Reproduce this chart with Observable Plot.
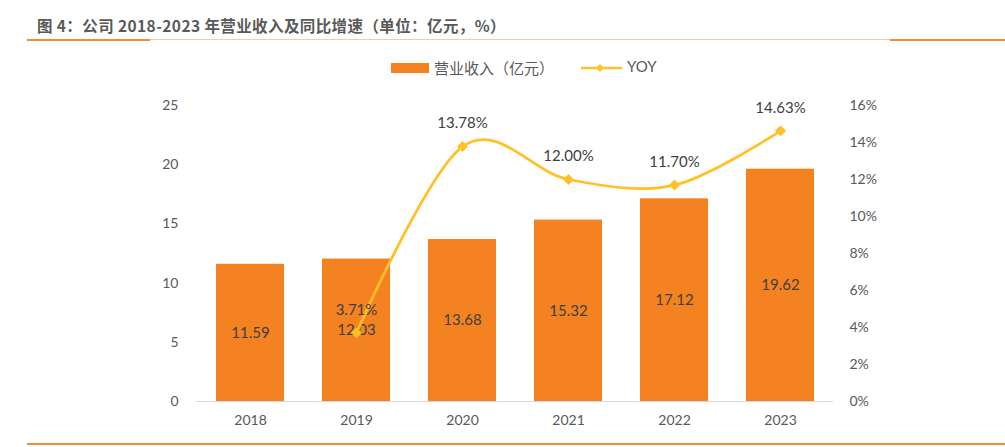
<!DOCTYPE html>
<html><head><meta charset="utf-8">
<script src="https://cdn.jsdelivr.net/npm/d3@7"></script>
<script src="https://cdn.jsdelivr.net/npm/@observablehq/plot@0.6"></script>
<style>
body{margin:0;background:#fff;}
#wrap{position:relative;width:1005px;height:447px;overflow:hidden;font-family:Lato,"Noto Sans CJK SC",sans-serif;}
#title{position:absolute;left:37px;top:14px;font:bold 15.5px "Noto Sans CJK SC",sans-serif;letter-spacing:0.4px;color:#595959;white-space:nowrap;}
.rule{position:absolute;background:#F4A460;}
#legend{position:absolute;left:0;top:56px;width:1005px;height:24px;font:15px "Noto Sans CJK SC",sans-serif;color:#595959;}
#chart{position:absolute;left:0;top:0;}
</style></head>
<body><div id="wrap">
<div id="chart"></div>
<div id="title">图 4：公司 2018-2023 年营业收入及同比增速（单位：亿元，%）</div>
<div class="rule" style="left:27px;top:39px;width:123px;height:2px;background:#F28C3A"></div>
<div class="rule" style="left:150px;top:39px;width:740px;height:1px;background:#F9C9A0"></div>
<div class="rule" style="left:890px;top:39px;width:115px;height:2px;background:#F28C3A"></div>
<div class="rule" style="left:27px;top:443px;width:978px;height:2px;background:#F28C3A"></div>
<div id="legend">
  <div style="position:absolute;left:391px;top:7px;width:38px;height:10px;background:#F58220"></div>
  <div style="position:absolute;left:434px;top:1px;">营业收入（亿元）</div>
  <svg style="position:absolute;left:580px;top:4px" width="44" height="16"><line x1="1" y1="8" x2="42" y2="8" stroke="#FFC125" stroke-width="2.5"/><path d="M20,4L24,8L20,12L16,8Z" fill="#FFC125"/></svg>
  <div style="position:absolute;left:627px;top:1px;font-family:Lato,sans-serif;">YOY</div>
</div>
</div>
<script>
const years = ["2018","2019","2020","2021","2022","2023"];
const revenue = [11.59, 12.03, 13.68, 15.32, 17.12, 19.62];
const yoy = [null, 3.71, 13.78, 12.00, 11.70, 14.63];
const leftTicks = [0,5,10,15,20,25];
const rightTicks = [0,2,4,6,8,10,12,14,16];

const k = 25/16;
const data = years.map((y,i)=>({year:y, rev:revenue[i], yoy:yoy[i]}));
const yoyData = data.filter(d=>d.yoy!=null);
const font = "Lato, sans-serif";

const chart = Plot.plot({
  width:1005, height:447,
  marginLeft:196, marginRight:172, marginTop:105, marginBottom:46,
  style:{fontFamily:font, fontSize:"14px", color:"#595959", background:"transparent"},
  x:{domain:years, paddingInner:0.36, paddingOuter:0.18, label:null},
  y:{domain:[0,25], label:null},
  marks:[
    Plot.barY(data,{x:"year", y:"rev", fill:"#F58220"}),
    Plot.ruleY([0],{stroke:"#D9D9D9", strokeWidth:1}),
    Plot.axisY(leftTicks,{anchor:"left", tickSize:0, tickPadding:18, label:null, fontSize:14, fill:"#595959"}),
    Plot.axisY(rightTicks.map(t=>t*k),{anchor:"right", tickSize:0, tickPadding:16, label:null, fontSize:14, fill:"#595959", textAnchor:"start", tickFormat:d=>Math.round(d/k)+"%"}),
    Plot.axisX({tickSize:0, tickPadding:14, label:null, fontSize:14, fill:"#595959"}),
    Plot.text(data,{x:"year", y:d=>d.rev/2, text:d=>d.rev.toFixed(2), fill:"#404040", fontSize:15}),
    Plot.line(yoyData,{x:"year", y:d=>d.yoy*k, curve:"cardinal", stroke:"#FFC125", strokeWidth:2.75}),
    Plot.dot(yoyData,{x:"year", y:d=>d.yoy*k, symbol:"diamond2", r:4.5, fill:"#FFC125", stroke:"#FFC125", strokeWidth:1}),
    Plot.text(yoyData,{x:"year", y:d=>d.yoy*k, dy:-23, text:d=>d.yoy.toFixed(2)+"%", fill:"#404040", fontSize:15})
  ]
});
document.getElementById("chart").appendChild(chart);
</script>
</body></html>
